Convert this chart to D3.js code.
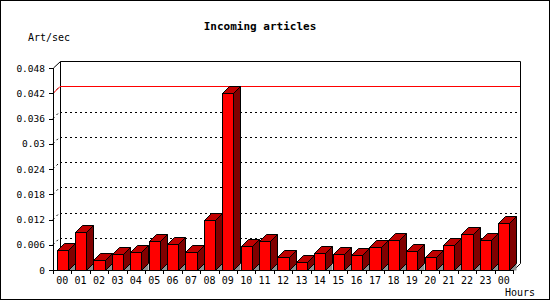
<!DOCTYPE html>
<html>
<head>
<meta charset="utf-8">
<script src="https://cdn.jsdelivr.net/npm/d3@7"></script>
<style>
    body { margin: 0; background: #fff; }
    text { font-family: "DejaVu Sans Mono", monospace; fill: #000; }
</style>
</head>
<body>
<div id="chart"></div>
<script>
var hours = ['00', '01', '02', '03', '04', '05', '06', '07', '08', '09', '10', '11',
             '12', '13', '14', '15', '16', '17', '18', '19', '20', '21', '22', '23', '00'],
    rates = [0.00475, 0.0090, 0.0023, 0.0038, 0.0043, 0.0069, 0.0062, 0.0043, 0.0118,
             0.0420, 0.0056, 0.0068, 0.0030, 0.0018, 0.0040, 0.0037, 0.0035, 0.0054,
             0.0071, 0.0044, 0.0030, 0.0059, 0.0086, 0.0071, 0.0111],
    yTicks = [0, 0.006, 0.012, 0.018, 0.024, 0.03, 0.036, 0.042, 0.048],
    yTickLabels = ['0', '0.006', '0.012', '0.018', '0.024', '0.03', '0.036', '0.042', '0.048'];

var width = 550,
    height = 300,
    depth = 7,
    svg = d3.select('#chart').append('svg')
        .attr('width', width)
        .attr('height', height),
    x = d3.scaleBand().domain(d3.range(hours.length)).range([53, 513]),
    y = d3.scaleLinear().domain([0, 0.048]).range([270, 68]),
    peak = d3.max(rates),
    bw = x.bandwidth() * 0.6,
    boff = x.bandwidth() * 0.2,
    y0 = y(0),
    yTop = y(0.048);

// outer frame
svg.append('rect')
    .attr('x', 0.5).attr('y', 0.5)
    .attr('width', width - 1).attr('height', height - 1)
    .attr('fill', 'none').attr('stroke', '#000');

svg.append('text')
    .attr('x', 260).attr('y', 30)
    .attr('text-anchor', 'middle')
    .style('font-size', '11px')
    .style('font-weight', 'bold')
    .text('Incoming articles');

svg.append('text')
    .attr('x', 28).attr('y', 41)
    .style('font-size', '10px')
    .text('Art/sec');

svg.append('text')
    .attr('x', 505).attr('y', 296)
    .style('font-size', '10px')
    .text('Hours');

// back wall grid (dotted), skipping top and the 0 level
svg.selectAll('line.grid')
    .data(yTicks.slice(1, -1))
    .enter()
    .append('line')
    .attr('class', 'grid')
    .attr('x1', x.range()[0] + depth)
    .attr('x2', x.range()[1] + depth)
    .attr('y1', function (d) { return Math.round(y(d) - depth) + 0.5; })
    .attr('y2', function (d) { return Math.round(y(d) - depth) + 0.5; })
    .attr('stroke', '#000')
    .attr('stroke-dasharray', '2,3');

svg.selectAll('line.side')
    .data(yTicks.slice(1, -1))
    .enter()
    .append('line')
    .attr('class', 'side')
    .attr('x1', x.range()[0])
    .attr('x2', x.range()[0] + depth)
    .attr('y1', function (d) { return y(d); })
    .attr('y2', function (d) { return y(d) - depth; })
    .attr('stroke', '#000')
    .attr('stroke-dasharray', '2,3');

// back wall outline
svg.append('path')
    .attr('d', 'M' + (x.range()[0] + 0.5) + ',' + yTop +
        'L' + (x.range()[0] + depth + 0.5) + ',' + (yTop - depth + 0.5) +
        'M' + (x.range()[0] + depth + 0.5) + ',' + y0 +
        'V' + (yTop - depth + 0.5) +
        'H' + (x.range()[1] + depth + 0.5) +
        'V' + (y0 - depth + 0.5) +
        'L' + (x.range()[1] + 0.5) + ',' + (y0 + 0.5))
    .attr('fill', 'none')
    .attr('stroke', '#000');

// peak line
svg.append('path')
    .attr('d', 'M' + x.range()[0] + ',' + (Math.round(y(peak)) + 0.5) +
        'L' + (x.range()[0] + depth) + ',' + (Math.round(y(peak) - depth) + 0.5) +
        'H' + (x.range()[1] + depth))
    .attr('fill', 'none')
    .attr('stroke', '#ff0000');

// bars
var bars = svg.selectAll('g.bar')
    .data(rates)
    .enter()
    .append('g')
    .attr('class', 'bar');

bars.append('path')
    .attr('fill', '#909090')
    .attr('d', function (d, i) {
        var x1 = Math.round(x(i) + boff + bw) + 0.5;
        return 'M' + x1 + ',' + (y0 + 0.5) + 'L' + (x1 + depth) + ',' + (y0 - depth + 0.5) +
            'V' + (y0 + 0.5) + 'Z';
    });

bars.append('path')
    .attr('fill', '#800000')
    .attr('stroke', '#000')
    .attr('d', function (d, i) {
        var x1 = Math.round(x(i) + boff + bw) + 0.5,
            t = Math.round(y(d)) + 0.5;
        return 'M' + x1 + ',' + t + 'L' + (x1 + depth) + ',' + (t - depth) +
            'V' + (y0 - depth + 0.5) + 'L' + x1 + ',' + (y0 + 0.5) + 'Z';
    });

bars.append('path')
    .attr('fill', '#c00000')
    .attr('stroke', '#000')
    .attr('d', function (d, i) {
        var x0 = Math.round(x(i) + boff) + 0.5,
            x1 = Math.round(x(i) + boff + bw) + 0.5,
            t = Math.round(y(d)) + 0.5;
        return 'M' + x0 + ',' + t + 'L' + (x0 + depth) + ',' + (t - depth) +
            'H' + (x1 + depth) + 'L' + x1 + ',' + t + 'Z';
    });

bars.append('rect')
    .attr('fill', '#ff0000')
    .attr('stroke', '#000')
    .attr('x', function (d, i) { return Math.round(x(i) + boff) + 0.5; })
    .attr('y', function (d) { return Math.round(y(d)) + 0.5; })
    .attr('width', function (d, i) {
        return Math.round(x(i) + boff + bw) - Math.round(x(i) + boff);
    })
    .attr('height', function (d) { return y0 - Math.round(y(d)); });

// front axes
svg.append('line')
    .attr('x1', x.range()[0] + 0.5).attr('x2', x.range()[0] + 0.5)
    .attr('y1', yTop).attr('y2', y0 + 1)
    .attr('stroke', '#000');
svg.append('line')
    .attr('x1', x.range()[0]).attr('x2', x.range()[1] + 1)
    .attr('y1', y0 + 0.5).attr('y2', y0 + 0.5)
    .attr('stroke', '#000');

svg.selectAll('line.ytick')
    .data(yTicks)
    .enter()
    .append('line')
    .attr('class', 'ytick')
    .attr('x1', x.range()[0] - 4).attr('x2', x.range()[0])
    .attr('y1', function (d) { return Math.round(y(d)) + 0.5; })
    .attr('y2', function (d) { return Math.round(y(d)) + 0.5; })
    .attr('stroke', '#000');

svg.selectAll('text.ylab')
    .data(yTicks)
    .enter()
    .append('text')
    .attr('class', 'ylab')
    .attr('x', 45)
    .attr('y', function (d) { return y(d) + 3.5; })
    .attr('text-anchor', 'end')
    .style('font-size', '9.5px')
    .text(function (d, i) { return yTickLabels[i]; });

svg.selectAll('line.xtick')
    .data(d3.range(hours.length + 1))
    .enter()
    .append('line')
    .attr('class', 'xtick')
    .attr('x1', function (i) { return Math.round(x.range()[0] + i * x.bandwidth()) + 0.5; })
    .attr('x2', function (i) { return Math.round(x.range()[0] + i * x.bandwidth()) + 0.5; })
    .attr('y1', y0).attr('y2', y0 + 4)
    .attr('stroke', '#000');

svg.selectAll('text.xlab')
    .data(hours)
    .enter()
    .append('text')
    .attr('class', 'xlab')
    .attr('x', function (d, i) { return x(i) + x.bandwidth() / 2; })
    .attr('y', 284)
    .attr('text-anchor', 'middle')
    .style('font-size', '10px')
    .text(function (d) { return d; });
</script>
</body>
</html>
